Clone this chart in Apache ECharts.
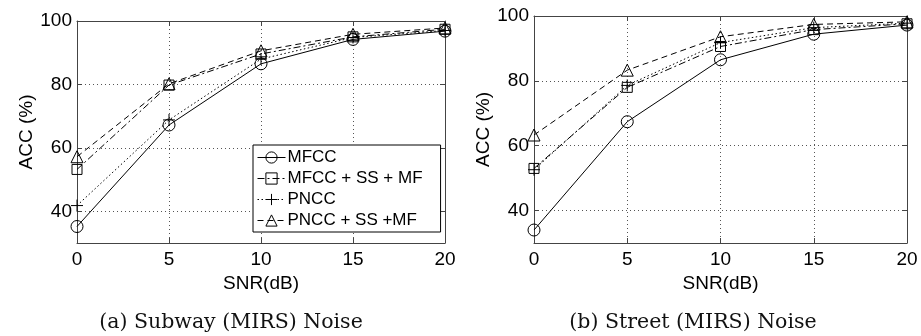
<!DOCTYPE html>
<html>
<head>
<meta charset="utf-8">
<script src="https://cdn.jsdelivr.net/npm/echarts@6/dist/echarts.min.js"></script>
<style>html,body{margin:0;padding:0;background:#fff}#c{width:921px;height:336px}</style>
</head>
<body>
<div id="c"></div>
<script>
const snr = [0, 5, 10, 15, 20];
const yTicks = [40, 60, 80, 100];
const names = ['MFCC', 'MFCC + SS + MF', 'PNCC', 'PNCC + SS +MF'];
const subwayMFCC = [35.2, 67.2, 86.5, 94.2, 96.8];
const subwayMFCCSSMF = [53.2, 79.8, 89.6, 95.0, 97.4];
const subwayPNCC = [41.8, 68.8, 88.0, 94.8, 97.0];
const subwayPNCCSSMF = [57.2, 80.2, 90.6, 95.8, 97.8];
const streetMFCC = [34.0, 67.4, 86.5, 94.4, 97.2];
const streetMFCCSSMF = [53.0, 78.0, 90.6, 95.8, 97.6];
const streetPNCC = [52.6, 78.6, 91.8, 96.4, 97.8];
const streetPNCCSSMF = [63.3, 83.3, 93.6, 97.4, 98.2];
const captions = ['(a) Subway (MIRS) Noise', '(b) Street (MIRS) Noise'];
const xName = 'SNR(dB)';
const yName = 'ACC (%)';

const sans = 'Liberation Sans';
const axisCol = '#444';
const styles = [
  {symbol: 'circle', size: 12, type: 'solid'},
  {symbol: 'rect', size: 10, type: [7, 3, 2, 3]},
  {symbol: 'path://M5,0L5,10M0,5L10,5', size: 12, type: [1.5, 2.5]},
  {symbol: 'triangle', size: 12, type: [6, 4]}
];

function mkX(grid, pos, labels) {
  return {
    type: 'value', gridIndex: grid, min: 0, max: 20, interval: 5, position: pos,
    name: labels ? xName : '', nameLocation: 'middle', nameGap: 30,
    nameTextStyle: {fontFamily: sans, fontSize: 19, color: '#000'},
    axisLine: {show: true, onZero: false, lineStyle: {color: axisCol, width: 1}},
    axisTick: {show: true, inside: true, length: 5, lineStyle: {color: axisCol}},
    axisLabel: {show: labels, fontFamily: sans, fontSize: 19, color: '#000', margin: 7},
    splitLine: {show: labels, lineStyle: {color: '#555', type: [1, 3], width: 1}}
  };
}
function mkY(grid, pos, labels) {
  return {
    type: 'value', gridIndex: grid, min: 30, max: 100, position: pos,
    name: labels ? yName : '', nameLocation: 'middle', nameGap: 40, nameRotate: 90,
    nameTextStyle: {fontFamily: sans, fontSize: 19, color: '#000'},
    axisLine: {show: true, onZero: false, lineStyle: {color: axisCol, width: 1}},
    axisTick: {show: true, inside: true, length: 5, customValues: yTicks, lineStyle: {color: axisCol}},
    axisLabel: {show: labels, customValues: yTicks, fontFamily: sans, fontSize: 19, color: '#000', margin: 5},
    splitLine: {show: labels, lineStyle: {color: '#555', type: [1, 3], width: 1}}
  };
}
function mkSeries(idx, data, i) {
  const s = styles[i];
  return {
    type: 'line', name: names[i], xAxisIndex: idx, yAxisIndex: idx,
    data: snr.map((x, k) => [x, data[k]]),
    symbol: s.symbol, symbolSize: s.size, showAllSymbol: true,
    lineStyle: {color: '#000', width: 1, type: s.type},
    itemStyle: {color: 'rgba(0,0,0,0)', borderColor: '#000', borderWidth: 1},
    emphasis: {disabled: true}, animation: false, z: 3
  };
}

const chart = echarts.init(document.getElementById('c'), null, {renderer: 'canvas'});
chart.setOption({
  animation: false,
  backgroundColor: '#fff',
  title: [
    {text: captions[0], left: 226, top: 307, textAlign: 'center',
     textStyle: {fontFamily: 'DejaVu Serif', fontSize: 20.5, fontWeight: 'normal', color: '#111'}},
    {text: captions[1], left: 688, top: 307, textAlign: 'center',
     textStyle: {fontFamily: 'DejaVu Serif', fontSize: 20.5, fontWeight: 'normal', color: '#111'}}
  ],
  grid: [
    {left: 77, top: 21, width: 368, height: 222, containLabel: false},
    {left: 534, top: 16, width: 373, height: 227, containLabel: false}
  ],
  xAxis: [mkX(0, 'bottom', true), mkX(1, 'bottom', true), mkX(0, 'top', false), mkX(1, 'top', false)],
  yAxis: [mkY(0, 'left', true), mkY(1, 'left', true), mkY(0, 'right', false), mkY(1, 'right', false)],
  legend: {
    show: true, orient: 'vertical', left: 253, top: 145,
    data: names, itemWidth: 28, itemHeight: 14, itemGap: 4,
    padding: [4, 18, 3, 4],
    backgroundColor: '#fff', borderColor: '#000', borderWidth: 1, borderRadius: 0,
    itemStyle: {color: 'rgba(0,0,0,0)', borderColor: '#000', borderWidth: 1},
    lineStyle: {width: 1, color: '#000'},
    textStyle: {fontFamily: sans, fontSize: 17, color: '#000', padding: [0, 0, 0, -3]},
    selectedMode: false
  },
  series: [
    mkSeries(0, subwayMFCC, 0), mkSeries(0, subwayMFCCSSMF, 1), mkSeries(0, subwayPNCC, 2), mkSeries(0, subwayPNCCSSMF, 3),
    mkSeries(1, streetMFCC, 0), mkSeries(1, streetMFCCSSMF, 1), mkSeries(1, streetPNCC, 2), mkSeries(1, streetPNCCSSMF, 3)
  ]
});
</script>
</body>
</html>
